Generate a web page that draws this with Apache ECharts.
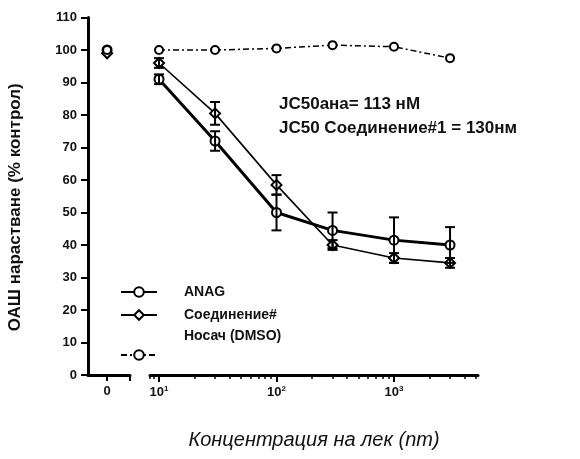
<!DOCTYPE html>
<html><head><meta charset="utf-8">
<script src="https://cdn.jsdelivr.net/npm/echarts@6/dist/echarts.min.js"></script>
<style>html,body{margin:0;padding:0;background:#fff}#c{width:580px;height:459px}</style>
</head><body><div id="c"></div>
<script>
// ---- data ----
const concentrations = [10, 30, 100, 300, 1000, 3000]; // nM
const anagValues = [91, 72, 50, 44.5, 41.5, 40];
const anagErr = [1.5, 3, 5.5, 5.5, 7, 5.5];
const compoundValues = [96, 80.5, 58.5, 40, 36, 34.5];
const compoundErr = [1.5, 3.5, 3, 1.5, 1.5, 1.5];
const vehicleValues = [100, 100, 100.5, 101.5, 101, 97.5];
const zeroX = [0];
const zeroAnag = [100];
const zeroCompound = [99];
const zeroVehicle = [100];
const majorTicks = [10, 100, 1000];
const majorTickLabels = ['10{s|1}', '10{s|2}', '10{s|3}'];
const minorTicks = [9, 20, 30, 40, 50, 60, 70, 80, 90, 200, 300, 400, 500, 600, 700, 800, 900, 2000, 3000, 4000, 5000];
const names = ['ANAG', 'Соединение#', 'Носач (DMSO)'];
const annotation = ['JC50ана= 113 нМ', 'JC50 Соединение#1 = 130нм'];
const xTitle = 'Концентрация на лек (nm)';
const yTitle = 'ОАШ нарастване (% контрол)';

const FONT = 'Liberation Sans, Arial, sans-serif';
const chart = echarts.init(document.getElementById('c'), null, {renderer: 'canvas'});

function errData(vals, errs, xs) {
  return xs.map((x, i) => [x, vals[i] - errs[i], vals[i] + errs[i]]);
}
function errRender(params, api) {
  const x = api.value(0), lo = api.value(1), hi = api.value(2);
  const a = api.coord([x, hi]), b = api.coord([x, lo]);
  const w = 5;
  const st = {stroke: '#000', lineWidth: 2};
  return {type: 'group', children: [
    {type: 'line', shape: {x1: a[0], y1: a[1], x2: b[0], y2: b[1]}, style: st},
    {type: 'line', shape: {x1: a[0] - w, y1: a[1], x2: a[0] + w, y2: a[1]}, style: st},
    {type: 'line', shape: {x1: b[0] - w, y1: b[1], x2: b[0] + w, y2: b[1]}, style: st}
  ]};
}

const legendText = {fontFamily: FONT, fontSize: 14, fontWeight: 'bold', color: '#111', padding: [0, 0, 0, 22]};
const legendBase = {orient: 'vertical', itemWidth: 36, itemHeight: 12, selectedMode: false, textStyle: legendText};

const option = {
  backgroundColor: '#fff',
  animation: false,
  title: {
    text: annotation.join('\n'), left: 274, top: 87,
    textStyle: {fontFamily: FONT, fontSize: 17, fontWeight: 'bold', color: '#111', lineHeight: 24}
  },
  legend: [
    Object.assign({}, legendBase, {data: [names[0]], left: 115, top: 280}),
    Object.assign({}, legendBase, {data: [names[1]], left: 115, top: 303}),
    Object.assign({}, legendBase, {data: [names[2]], left: 115, top: 324,
      formatter: function (n) { return '{a|' + n + '}\n{b|}'; },
      textStyle: Object.assign({}, legendText, {
        rich: {a: {fontFamily: FONT, fontSize: 14, fontWeight: 'bold', color: '#111', lineHeight: 14},
               b: {height: 38, lineHeight: 38}}})})
  ],
  grid: [
    {left: 88, top: 17.5, width: 42, bottom: 84},
    {left: 150, top: 17.5, width: 328, bottom: 84}
  ],
  xAxis: [
    {gridIndex: 0, type: 'value', min: -1, max: 1.2,
     axisLine: {onZero: false, lineStyle: {color: '#000', width: 3}},
     axisTick: {customValues: [0, 1.2], length: 6, lineStyle: {color: '#000', width: 2}},
     axisLabel: {customValues: [0], margin: 10, fontFamily: FONT, fontSize: 13, fontWeight: 'bold', color: '#111'},
     splitLine: {show: false}},
    {gridIndex: 1, type: 'log', min: 8.38, max: 5190,
     axisLine: {onZero: false, lineStyle: {color: '#000', width: 3}},
     axisTick: {customValues: [8.38].concat(minorTicks), length: 4, lineStyle: {color: '#000', width: 1.5}},
     axisLabel: {show: false},
     splitLine: {show: false},
     name: xTitle, nameLocation: 'middle', nameGap: 55,
     nameTextStyle: {fontFamily: FONT, fontSize: 20, fontStyle: 'italic', color: '#111'}},
    {gridIndex: 1, type: 'log', min: 8.38, max: 5190, position: 'bottom',
     axisLine: {show: false},
     axisTick: {customValues: majorTicks, length: 7, lineStyle: {color: '#000', width: 2}},
     axisLabel: {customValues: majorTicks, margin: 10,
       formatter: function (v) { const i = majorTicks.indexOf(Math.round(v)); return i >= 0 ? majorTickLabels[i] : ''; },
       fontFamily: FONT, fontSize: 13, fontWeight: 'bold', color: '#111',
       rich: {s: {fontSize: 8, fontWeight: 'bold', verticalAlign: 'top', padding: [0, 0, 6, 0], fontFamily: FONT, color: '#111'}}},
     splitLine: {show: false}}
  ],
  yAxis: [
    {gridIndex: 0, type: 'value', min: 0, max: 110, interval: 10,
     axisLine: {show: true, onZero: false, lineStyle: {color: '#000', width: 3}},
     axisTick: {show: true, length: 7, lineStyle: {color: '#000', width: 2}},
     axisLabel: {margin: 11, fontFamily: FONT, fontSize: 13, fontWeight: 'bold', color: '#111'},
     splitLine: {show: false},
     name: yTitle, nameLocation: 'middle', nameGap: 64, nameRotate: 90,
     nameTextStyle: {fontFamily: FONT, fontSize: 17, fontWeight: 'bold', color: '#111', padding: [0, 22, 0, 0]}},
    {gridIndex: 1, type: 'value', min: 0, max: 110, interval: 10, show: false}
  ],
  series: [
    {name: names[0], type: 'line', xAxisIndex: 1, yAxisIndex: 1,
     data: concentrations.map((x, i) => [x, anagValues[i]]),
     symbol: 'emptyCircle', symbolSize: 9, color: '#000',
     lineStyle: {color: '#000', width: 3}, itemStyle: {color: '#000', borderWidth: 2}, z: 4},
    {name: names[1], type: 'line', xAxisIndex: 1, yAxisIndex: 1,
     data: concentrations.map((x, i) => [x, compoundValues[i]]),
     symbol: 'emptyDiamond', symbolSize: 10, color: '#000',
     lineStyle: {color: '#000', width: 1.6}, itemStyle: {color: '#000', borderWidth: 1.5}, z: 3},
    {name: names[2], type: 'line', xAxisIndex: 1, yAxisIndex: 1,
     data: concentrations.map((x, i) => [x, vehicleValues[i]]),
     symbol: 'emptyCircle', symbolSize: 8, color: '#000',
     lineStyle: {color: '#000', width: 1.5, type: [6, 3, 2, 3]}, itemStyle: {color: '#000', borderWidth: 1.5}, z: 2},
    {name: 'errA', type: 'custom', xAxisIndex: 1, yAxisIndex: 1,
     data: errData(anagValues, anagErr, concentrations), renderItem: errRender, z: 5},
    {name: 'errC', type: 'custom', xAxisIndex: 1, yAxisIndex: 1,
     data: errData(compoundValues, compoundErr, concentrations), renderItem: errRender, z: 5},
    {name: names[0], type: 'line', xAxisIndex: 0, yAxisIndex: 0,
     data: zeroX.map((x, i) => [x, zeroAnag[i]]),
     symbol: 'emptyCircle', symbolSize: 9, color: '#000', itemStyle: {color: '#000', borderWidth: 2}},
    {name: names[1], type: 'line', xAxisIndex: 0, yAxisIndex: 0,
     data: zeroX.map((x, i) => [x, zeroCompound[i]]),
     symbol: 'emptyDiamond', symbolSize: 10, color: '#000', itemStyle: {color: '#000', borderWidth: 1.5}},
    {name: names[2], type: 'line', xAxisIndex: 0, yAxisIndex: 0,
     data: zeroX.map((x, i) => [x, zeroVehicle[i]]),
     symbol: 'emptyCircle', symbolSize: 8, color: '#000', itemStyle: {color: '#000', borderWidth: 1.5}}
  ]
};
chart.setOption(option);
</script>
</body></html>
